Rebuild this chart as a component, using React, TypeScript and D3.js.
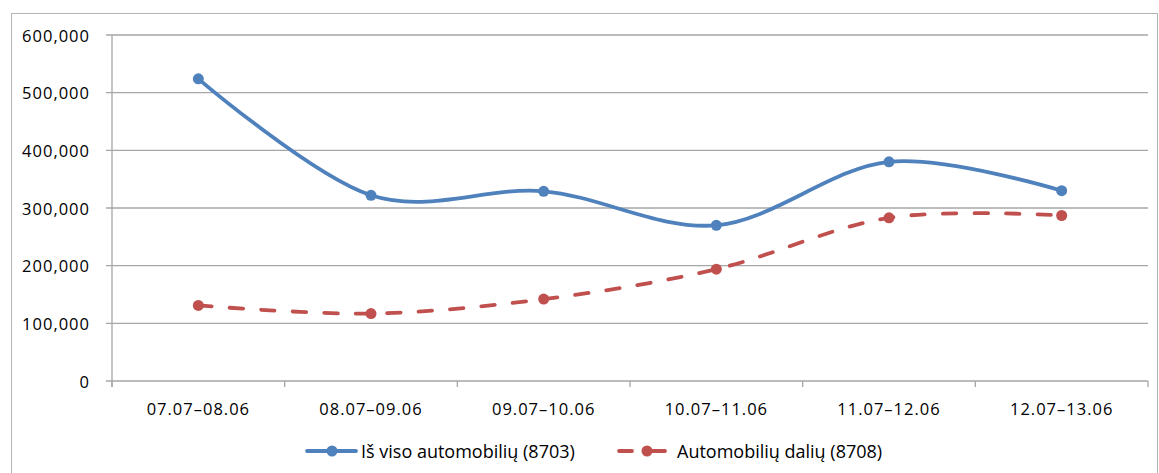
import {useEffect} from 'react';
import * as d3 from 'd3';

const categories = ['07.07–08.06', '08.07–09.06', '09.07–10.06', '10.07–11.06', '11.07–12.06', '12.07–13.06'];
const totalCars = [524000, 322000, 329000, 270000, 380000, 330000];
const carParts = [131000, 117000, 142000, 194000, 283000, 287000];
const yTicks = [0, 100000, 200000, 300000, 400000, 500000, 600000];
const seriesNames = ['Iš viso automobilių (8703)', 'Automobilių dalių (8708)'];

const width = 1159;
const height = 473;
const font = '"Open Sans", sans-serif';
const blue = '#4F81BD';
const red = '#C0504D';
const grid = '#A6A6A6';

export default function App() {
  useEffect(() => {
    document.body.style.margin = '0';
  }, []);

  const x = d3.scaleBand<string>().domain(categories).range([112, 1148]);
  const y = d3.scaleLinear().domain([0, 600000]).range([381, 35]);
  const cx = (c: string) => (x(c) ?? 0) + x.bandwidth() / 2;
  const fmt = d3.format(',');

  const line = d3
    .line<number>()
    .x((_, i) => cx(categories[i]))
    .y((d) => y(d))
    .curve(d3.curveCardinal.tension(0));

  const bounds = [...categories.map((c) => x(c) ?? 0), 1148];
  const legendY = 451;

  return (
    <svg width={width} height={height} style={{display: 'block', background: '#fff'}}>
      <rect x={11.5} y={13.5} width={1146} height={520} fill="none" stroke="#B3B3B3" />

      {yTicks.map((t) => (
        <g key={t}>
          <line x1={106} x2={1148} y1={y(t)} y2={y(t)} stroke={grid} strokeWidth={1.3} />
          <text
            x={90}
            y={y(t)}
            textAnchor="end"
            dominantBaseline="central"
            fontFamily={font}
            fontSize={16.5}
            letterSpacing={1}
            fill="#000"
          >
            {fmt(t)}
          </text>
        </g>
      ))}

      <line x1={112} x2={112} y1={35} y2={387} stroke={grid} strokeWidth={1.3} />
      {bounds.map((b, i) => (
        <line key={i} x1={b} x2={b} y1={381} y2={387} stroke={grid} strokeWidth={1.3} />
      ))}

      {categories.map((c) => (
        <text
          key={c}
          x={cx(c)}
          y={408}
          textAnchor="middle"
          dominantBaseline="central"
          fontFamily={font}
          fontSize={16.5}
          letterSpacing={1}
          fill="#000"
        >
          {c}
        </text>
      ))}

      <path d={line(totalCars) ?? ''} fill="none" stroke={blue} strokeWidth={3.8} strokeLinecap="round" />
      {totalCars.map((v, i) => (
        <circle key={i} cx={cx(categories[i])} cy={y(v)} r={5.5} fill={blue} />
      ))}

      <path
        d={line(carParts) ?? ''}
        fill="none"
        stroke={red}
        strokeWidth={3.8}
        strokeLinecap="round"
        strokeDasharray="13.5,18"
      />
      {carParts.map((v, i) => (
        <circle key={i} cx={cx(categories[i])} cy={y(v)} r={5.5} fill={red} />
      ))}

      <g>
        <line x1={307} x2={356} y1={legendY} y2={legendY} stroke={blue} strokeWidth={3.8} strokeLinecap="round" />
        <circle cx={332} cy={legendY} r={5.5} fill={blue} />
        <text x={361} y={legendY} dominantBaseline="central" fontFamily={font} fontSize={18} fill="#000">
          {seriesNames[0]}
        </text>

        <line x1={619} x2={632} y1={legendY} y2={legendY} stroke={red} strokeWidth={3.8} strokeLinecap="round" />
        <line x1={647} x2={665} y1={legendY} y2={legendY} stroke={red} strokeWidth={3.8} strokeLinecap="round" />
        <circle cx={647} cy={legendY} r={5.5} fill={red} />
        <text x={677} y={legendY} dominantBaseline="central" fontFamily={font} fontSize={18} fill="#000">
          {seriesNames[1]}
        </text>
      </g>
    </svg>
  );
}
